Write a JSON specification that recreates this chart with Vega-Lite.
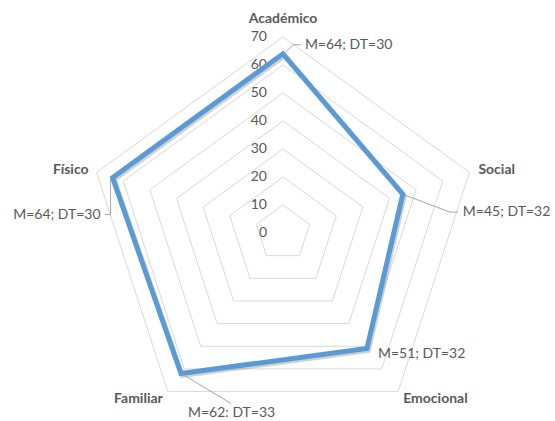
{
  "$schema": "https://vega.github.io/schema/vega-lite/v6.json",
  "width": 555,
  "height": 421,
  "autosize": {"type": "none"},
  "padding": 0,
  "background": "white",
  "config": {"view": {"stroke": null}, "text": {"font": "Lato", "color": "#595959"}},
  "datasets": {
    "scores": [
      {"k": 0, "cat": "Académico", "value": 64, "label": "M=64; DT=30"},
      {"k": 1, "cat": "Social", "value": 45, "label": "M=45; DT=32"},
      {"k": 2, "cat": "Emocional", "value": 51, "label": "M=51; DT=32"},
      {"k": 3, "cat": "Familiar", "value": 62, "label": "M=62: DT=33"},
      {"k": 4, "cat": "Físico", "value": 64, "label": "M=64; DT=30"}
    ],
    "ticks": [
      {"level": 0, "k": [0, 1, 2, 3, 4]},
      {"level": 10, "k": [0, 1, 2, 3, 4]},
      {"level": 20, "k": [0, 1, 2, 3, 4]},
      {"level": 30, "k": [0, 1, 2, 3, 4]},
      {"level": 40, "k": [0, 1, 2, 3, 4]},
      {"level": 50, "k": [0, 1, 2, 3, 4]},
      {"level": 60, "k": [0, 1, 2, 3, 4]},
      {"level": 70, "k": [0, 1, 2, 3, 4]}
    ]
  },
  "encoding": {
    "x": {"field": "px", "type": "quantitative", "scale": {"domain": [-101.07, 97.14], "range": [0, 555], "zero": false, "nice": false}, "axis": null},
    "y": {"field": "py", "type": "quantitative", "scale": {"domain": [-67.14, 83.21], "range": [421, 0], "zero": false, "nice": false}, "axis": null}
  },
  "layer": [
    {
      "data": {"name": "ticks"},
      "transform": [
        {"filter": "datum.level > 0"},
        {"flatten": ["k"]},
        {"calculate": "datum.k*2*PI/5", "as": "a"},
        {"calculate": "datum.level*sin(datum.a)", "as": "px"},
        {"calculate": "datum.level*cos(datum.a)", "as": "py"}
      ],
      "mark": {"type": "line", "interpolate": "linear-closed", "stroke": "#d9d9d9", "strokeWidth": 1},
      "encoding": {"detail": {"field": "level"}, "order": {"field": "k"}}
    },
    {
      "data": {"name": "ticks"},
      "transform": [
        {"calculate": "0", "as": "px"},
        {"calculate": "datum.level", "as": "py"}
      ],
      "mark": {"type": "text", "align": "right", "baseline": "middle", "dx": -16, "fontSize": 14},
      "encoding": {"text": {"field": "level"}}
    },
    {
      "data": {"name": "scores"},
      "transform": [
        {"calculate": "datum.k*2*PI/5", "as": "a"},
        {"calculate": "datum.value*sin(datum.a)", "as": "px"},
        {"calculate": "datum.value*cos(datum.a)", "as": "py"}
      ],
      "mark": {"type": "line", "interpolate": "linear-closed", "stroke": "#7f7f7f", "strokeOpacity": 0.35, "strokeWidth": 5, "xOffset": 1.5, "yOffset": 2},
      "encoding": {"order": {"field": "k"}}
    },
    {
      "data": {"name": "scores"},
      "transform": [
        {"calculate": "datum.k*2*PI/5", "as": "a"},
        {"calculate": "datum.value*sin(datum.a)", "as": "px"},
        {"calculate": "datum.value*cos(datum.a)", "as": "py"}
      ],
      "mark": {"type": "line", "interpolate": "linear-closed", "stroke": "#5b9bd5", "strokeWidth": 5, "strokeJoin": "miter"},
      "encoding": {"order": {"field": "k"}}
    },
    {
      "data": {"name": "scores"},
      "transform": [
        {"calculate": "datum.k*2*PI/5", "as": "a"},
        {"calculate": "70*sin(datum.a)", "as": "px"},
        {"calculate": "70*cos(datum.a)", "as": "py"},
        {"filter": "datum.k == 0"}
      ],
      "mark": {"type": "text", "fontWeight": "bold", "fontSize": 14, "align": "center", "baseline": "bottom", "dy": -11},
      "encoding": {"text": {"field": "cat"}}
    },
    {
      "data": {"name": "scores"},
      "transform": [
        {"calculate": "datum.k*2*PI/5", "as": "a"},
        {"calculate": "70*sin(datum.a)", "as": "px"},
        {"calculate": "70*cos(datum.a)", "as": "py"},
        {"filter": "datum.k == 1"}
      ],
      "mark": {"type": "text", "fontWeight": "bold", "fontSize": 14, "align": "left", "baseline": "middle", "dx": 9, "dy": -2},
      "encoding": {"text": {"field": "cat"}}
    },
    {
      "data": {"name": "scores"},
      "transform": [
        {"calculate": "datum.k*2*PI/5", "as": "a"},
        {"calculate": "70*sin(datum.a)", "as": "px"},
        {"calculate": "70*cos(datum.a)", "as": "py"},
        {"filter": "datum.k == 2"}
      ],
      "mark": {"type": "text", "fontWeight": "bold", "fontSize": 14, "align": "left", "baseline": "middle", "dx": 5, "dy": 7},
      "encoding": {"text": {"field": "cat"}}
    },
    {
      "data": {"name": "scores"},
      "transform": [
        {"calculate": "datum.k*2*PI/5", "as": "a"},
        {"calculate": "70*sin(datum.a)", "as": "px"},
        {"calculate": "70*cos(datum.a)", "as": "py"},
        {"filter": "datum.k == 3"}
      ],
      "mark": {"type": "text", "fontWeight": "bold", "fontSize": 14, "align": "right", "baseline": "middle", "dx": -5, "dy": 7},
      "encoding": {"text": {"field": "cat"}}
    },
    {
      "data": {"name": "scores"},
      "transform": [
        {"calculate": "datum.k*2*PI/5", "as": "a"},
        {"calculate": "70*sin(datum.a)", "as": "px"},
        {"calculate": "70*cos(datum.a)", "as": "py"},
        {"filter": "datum.k == 4"}
      ],
      "mark": {"type": "text", "fontWeight": "bold", "fontSize": 14, "align": "right", "baseline": "middle", "dx": -8, "dy": -2},
      "encoding": {"text": {"field": "cat"}}
    },
    {
      "data": {"name": "scores"},
      "transform": [
        {"calculate": "datum.k*2*PI/5", "as": "a"},
        {"calculate": "datum.value*sin(datum.a)", "as": "px"},
        {"calculate": "datum.value*cos(datum.a)", "as": "py"},
        {"filter": "datum.k == 0"}
      ],
      "layer": [
        {"mark": {"type": "rule", "stroke": "#a6a6a6", "strokeWidth": 1, "xOffset": 2, "yOffset": -1, "x2Offset": 10, "y2Offset": -9}, "encoding": {"x2": {"field": "px"}, "y2": {"field": "py"}}},
        {"mark": {"type": "rule", "stroke": "#a6a6a6", "strokeWidth": 1, "xOffset": 10, "yOffset": -9, "x2Offset": 18, "y2Offset": -9}, "encoding": {"x2": {"field": "px"}, "y2": {"field": "py"}}},
        {"mark": {"type": "text", "fontSize": 14, "align": "left", "baseline": "middle", "dx": 22, "dy": -9}, "encoding": {"text": {"field": "label"}}}
      ]
    },
    {
      "data": {"name": "scores"},
      "transform": [
        {"calculate": "datum.k*2*PI/5", "as": "a"},
        {"calculate": "datum.value*sin(datum.a)", "as": "px"},
        {"calculate": "datum.value*cos(datum.a)", "as": "py"},
        {"filter": "datum.k == 1"}
      ],
      "layer": [
        {"mark": {"type": "rule", "stroke": "#a6a6a6", "strokeWidth": 1, "xOffset": 2, "yOffset": 1, "x2Offset": 47, "y2Offset": 18}, "encoding": {"x2": {"field": "px"}, "y2": {"field": "py"}}},
        {"mark": {"type": "rule", "stroke": "#a6a6a6", "strokeWidth": 1, "xOffset": 47, "yOffset": 18, "x2Offset": 55, "y2Offset": 18}, "encoding": {"x2": {"field": "px"}, "y2": {"field": "py"}}},
        {"mark": {"type": "text", "fontSize": 14, "align": "left", "baseline": "middle", "dx": 60, "dy": 18}, "encoding": {"text": {"field": "label"}}}
      ]
    },
    {
      "data": {"name": "scores"},
      "transform": [
        {"calculate": "datum.k*2*PI/5", "as": "a"},
        {"calculate": "datum.value*sin(datum.a)", "as": "px"},
        {"calculate": "datum.value*cos(datum.a)", "as": "py"},
        {"filter": "datum.k == 2"}
      ],
      "mark": {"type": "text", "fontSize": 14, "align": "left", "baseline": "middle", "dx": 11, "dy": 5},
      "encoding": {"text": {"field": "label"}}
    },
    {
      "data": {"name": "scores"},
      "transform": [
        {"calculate": "datum.k*2*PI/5", "as": "a"},
        {"calculate": "datum.value*sin(datum.a)", "as": "px"},
        {"calculate": "datum.value*cos(datum.a)", "as": "py"},
        {"filter": "datum.k == 3"}
      ],
      "layer": [
        {"mark": {"type": "rule", "stroke": "#a6a6a6", "strokeWidth": 1, "xOffset": 2, "yOffset": 1, "x2Offset": 50, "y2Offset": 30}, "encoding": {"x2": {"field": "px"}, "y2": {"field": "py"}}},
        {"mark": {"type": "text", "fontSize": 14, "align": "left", "baseline": "middle", "dx": 7, "dy": 40}, "encoding": {"text": {"field": "label"}}}
      ]
    },
    {
      "data": {"name": "scores"},
      "transform": [
        {"calculate": "datum.k*2*PI/5", "as": "a"},
        {"calculate": "datum.value*sin(datum.a)", "as": "px"},
        {"calculate": "datum.value*cos(datum.a)", "as": "py"},
        {"filter": "datum.k == 4"}
      ],
      "layer": [
        {"mark": {"type": "rule", "stroke": "#a6a6a6", "strokeWidth": 1, "xOffset": -2, "yOffset": 1, "x2Offset": -2, "y2Offset": 37}, "encoding": {"x2": {"field": "px"}, "y2": {"field": "py"}}},
        {"mark": {"type": "rule", "stroke": "#a6a6a6", "strokeWidth": 1, "xOffset": -2, "yOffset": 37, "x2Offset": -8, "y2Offset": 37}, "encoding": {"x2": {"field": "px"}, "y2": {"field": "py"}}},
        {"mark": {"type": "text", "fontSize": 14, "align": "right", "baseline": "middle", "dx": -12, "dy": 37}, "encoding": {"text": {"field": "label"}}}
      ]
    }
  ]
}
